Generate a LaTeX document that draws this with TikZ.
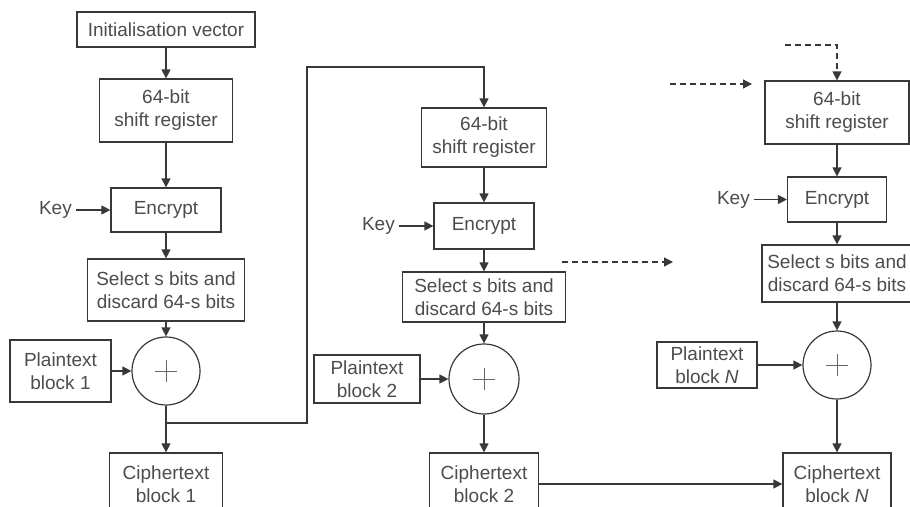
\documentclass[tikz,border=0pt]{standalone}
\usepackage{fontspec}
\setmainfont{Liberation Sans}
\usetikzlibrary{arrows.meta}
\begin{document}
\begin{tikzpicture}[x=1pt,y=-1pt,
  every node/.style={font=\fontsize{19}{23}\selectfont, text=black!70},
  blk/.style={draw=black!78, line width=1.2pt, fill=white, align=center, inner sep=0pt},
  xorc/.style={draw=black!78, line width=1.2pt, circle, minimum size=68pt, inner sep=0pt,
    path picture={\draw[black!60,line width=1pt]
      ([xshift=-11pt]path picture bounding box.center) -- ([xshift=11pt]path picture bounding box.center)
      ([yshift=-11pt]path picture bounding box.center) -- ([yshift=11pt]path picture bounding box.center);}},
  conn/.style={draw=black!78, line width=1.2pt, -{Triangle[length=9pt,width=9pt]}},
  dconn/.style={conn, dash pattern=on 6pt off 4pt},
  lbl/.style={inner ysep=2pt, inner xsep=4pt}]
\useasboundingbox (0,0) rectangle (910,506);
\clip (0,0) rectangle (910,506);

% column 1
\node[blk, minimum width=178pt, minimum height=35pt] (iv) at (166,29.5) {Initialisation vector};
\node[blk, minimum width=133pt, minimum height=63pt] (sr1) at (166,110.5) {64-bit\\shift register};
\node[blk, minimum width=110pt, minimum height=44pt] (enc1) at (166,210) {Encrypt};
\node[lbl, anchor=east] (key1) at (76,210) {Key};
\node[blk, minimum width=157pt, minimum height=62pt] (sel1) at (166,290) {Select s bits and\\discard 64-s bits};
\node[xorc] (x1) at (166,371) {};
\node[blk, minimum width=101pt, minimum height=62pt] (pt1) at (60.5,371) {Plaintext\\block 1};
\node[blk, minimum width=113pt, minimum height=62pt] (ct1) at (166,484) {Ciphertext\\block 1};

% column 2
\node[blk, minimum width=125pt, minimum height=59pt] (sr2) at (484,137.5) {64-bit\\shift register};
\node[blk, minimum width=100pt, minimum height=46pt] (enc2) at (484,226) {Encrypt};
\node[lbl, anchor=east] (key2) at (399,226) {Key};
\node[blk, minimum width=163pt, minimum height=50pt] (sel2) at (484,297) {Select s bits and\\discard 64-s bits};
\node[xorc, minimum size=70pt] (x2) at (484,379) {};
\node[blk, minimum width=106pt, minimum height=48pt] (pt2) at (367,379) {Plaintext\\block 2};
\node[blk, minimum width=109pt, minimum height=62pt] (ct2) at (484,484) {Ciphertext\\block 2};

% column 3
\node[blk, minimum width=144pt, minimum height=63pt] (srN) at (837,112.5) {64-bit\\shift register};
\node[blk, minimum width=99pt, minimum height=45pt] (encN) at (837,199.5) {Encrypt};
\node[lbl, anchor=east] (keyN) at (754,199.5) {Key};
\node[blk, minimum width=150pt, minimum height=57pt] (selN) at (837,273.5) {Select s bits and\\discard 64-s bits};
\node[xorc] (xN) at (837,365) {};
\node[blk, minimum width=100pt, minimum height=46pt] (ptN) at (707,365) {Plaintext\\block \textit{N}};
\node[blk, minimum width=108pt, minimum height=62pt] (ctN) at (837,484) {Ciphertext\\block \textit{N}};

% connectors column 1
\draw[conn] (iv) -- (sr1);
\draw[conn] (sr1) -- (enc1);
\draw[conn] (key1) -- (enc1);
\draw[conn] (enc1) -- (sel1);
\draw[conn] (sel1) -- (x1);
\draw[conn] (pt1) -- (x1);
\draw[conn] (x1) -- (ct1);
\coordinate (j1) at (166,423);
\coordinate (up) at (307,67);
\draw[conn] (j1) -| (up) -| (sr2.north);

% connectors column 2
\draw[conn] (sr2) -- (enc2);
\draw[conn] (key2) -- (enc2);
\draw[conn] (enc2) -- (sel2);
\draw[conn] (sel2) -- (x2);
\draw[conn] (pt2) -- (x2);
\draw[conn] (x2) -- (ct2);
\draw[conn] (ct2) -- (ctN);

% connectors column 3
\draw[conn] (srN) -- (encN);
\draw[conn] (keyN) -- (encN);
\draw[conn] (encN) -- (selN);
\draw[conn] (selN) -- (xN);
\draw[conn] (ptN) -- (xN);
\draw[conn] (xN) -- (ctN);

% dashed continuation arrows
\coordinate (d1s) at (562,262);
\coordinate (d1e) at (673,262);
\draw[dconn] (d1s) -- (d1e);
\coordinate (d2s) at (670,84);
\coordinate (d2e) at (752,84);
\draw[dconn] (d2s) -- (d2e);
\coordinate (d3s) at (785,45);
\draw[dconn] (d3s) -| (srN.north);
\end{tikzpicture}
\end{document}
